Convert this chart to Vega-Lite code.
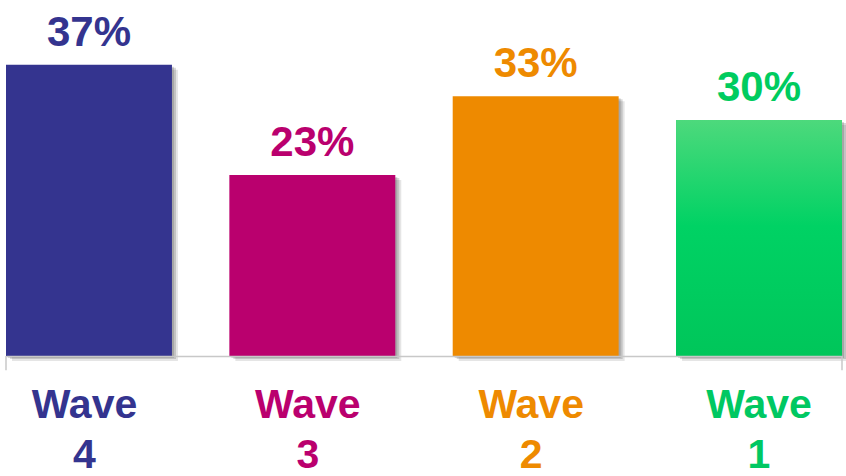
{
  "$schema": "https://vega.github.io/schema/vega-lite/v6.json",
  "width": 836,
  "height": 356,
  "autosize": {"type": "none"},
  "padding": {"left": 6, "top": 0, "right": 4, "bottom": 120},
  "background": "white",
  "config": {"view": {"stroke": null}},
  "data": {
    "values": [
      {"wave": "Wave 4", "pct": 37, "label": "37%"},
      {"wave": "Wave 3", "pct": 23, "label": "23%"},
      {"wave": "Wave 2", "pct": 33, "label": "33%"},
      {"wave": "Wave 1", "pct": 30, "label": "30%"}
    ]
  },
  "encoding": {
    "x": {
      "field": "wave",
      "type": "nominal",
      "sort": null,
      "scale": {"paddingInner": 0.257, "paddingOuter": 0},
      "axis": {
        "title": null,
        "ticks": false,
        "domainColor": "#c8c8c8",
        "domainWidth": 1.5,
        "labelAngle": 0,
        "labelExpr": "split(datum.label, ' ')",
        "labelFont": "Liberation Sans",
        "labelFontWeight": "bold",
        "labelFontSize": 41,
        "labelLineHeight": 50,
        "labelBaseline": "alphabetic",
        "labelPadding": 61,
        "labelLimit": 0,
        "labelOverlap": false,
        "labelFlush": false,
        "labelOffset": {
          "condition": {"test": "datum.value == 'Wave 1'", "value": 0},
          "value": -4.5
        },
        "labelColor": {
          "condition": [
            {"test": "datum.value == 'Wave 4'", "value": "#34348f"},
            {"test": "datum.value == 'Wave 3'", "value": "#ba006e"},
            {"test": "datum.value == 'Wave 2'", "value": "#ee8a00"}
          ],
          "value": "#00c862"
        },
        "zindex": 2
      }
    },
    "y": {
      "field": "pct",
      "type": "quantitative",
      "scale": {"domain": [0, 45.24], "nice": false},
      "axis": null
    }
  },
  "layer": [
    {
      "mark": {"type": "bar", "color": "#000000", "opacity": 0.1, "xOffset": 6, "yOffset": 5}
    },
    {
      "mark": {"type": "bar", "color": "#000000", "opacity": 0.15, "xOffset": 4, "yOffset": 3}
    },
    {
      "mark": {"type": "bar", "color": "#000000", "opacity": 0.15, "xOffset": 2, "yOffset": 2}
    },
    {
      "mark": {"type": "bar"},
      "encoding": {
        "color": {
          "field": "wave",
          "type": "nominal",
          "scale": {
            "domain": ["Wave 4", "Wave 3", "Wave 2", "Wave 1"],
            "range": ["#34348f", "#ba006e", "#ee8a00", "#00cc5f"]
          },
          "legend": null
        }
      }
    },
    {
      "transform": [{"filter": "datum.wave == 'Wave 1'"}],
      "mark": {
        "type": "bar",
        "color": {
          "gradient": "linear",
          "x1": 0, "y1": 0, "x2": 0, "y2": 1,
          "stops": [
            {"offset": 0, "color": "#4dd97c"},
            {"offset": 0.45, "color": "#00d264"},
            {"offset": 1, "color": "#00c65a"}
          ]
        }
      }
    },
    {
      "transform": [{"filter": "datum.wave == 'Wave 4'"}],
      "mark": {"type": "rule", "color": "#c8c8c8", "strokeWidth": 1.5},
      "encoding": {
        "x": {"field": "wave", "type": "nominal", "bandPosition": 0},
        "y": {"datum": 0},
        "y2": {"datum": -1.8}
      }
    },
    {
      "transform": [{"filter": "datum.wave == 'Wave 1'"}],
      "mark": {"type": "rule", "color": "#c8c8c8", "strokeWidth": 1.5},
      "encoding": {
        "x": {"field": "wave", "type": "nominal", "bandPosition": 1},
        "y": {"datum": 0},
        "y2": {"datum": -1.8}
      }
    },
    {
      "mark": {
        "type": "text",
        "font": "Liberation Sans",
        "fontWeight": "bold",
        "fontSize": 42,
        "baseline": "alphabetic",
        "dy": -19
      },
      "encoding": {
        "text": {"field": "label", "type": "nominal"},
        "color": {
          "field": "wave",
          "type": "nominal",
          "scale": {
            "domain": ["Wave 4", "Wave 3", "Wave 2", "Wave 1"],
            "range": ["#34348f", "#ba006e", "#ee8a00", "#00cc5f"]
          },
          "legend": null
        }
      }
    }
  ]
}
